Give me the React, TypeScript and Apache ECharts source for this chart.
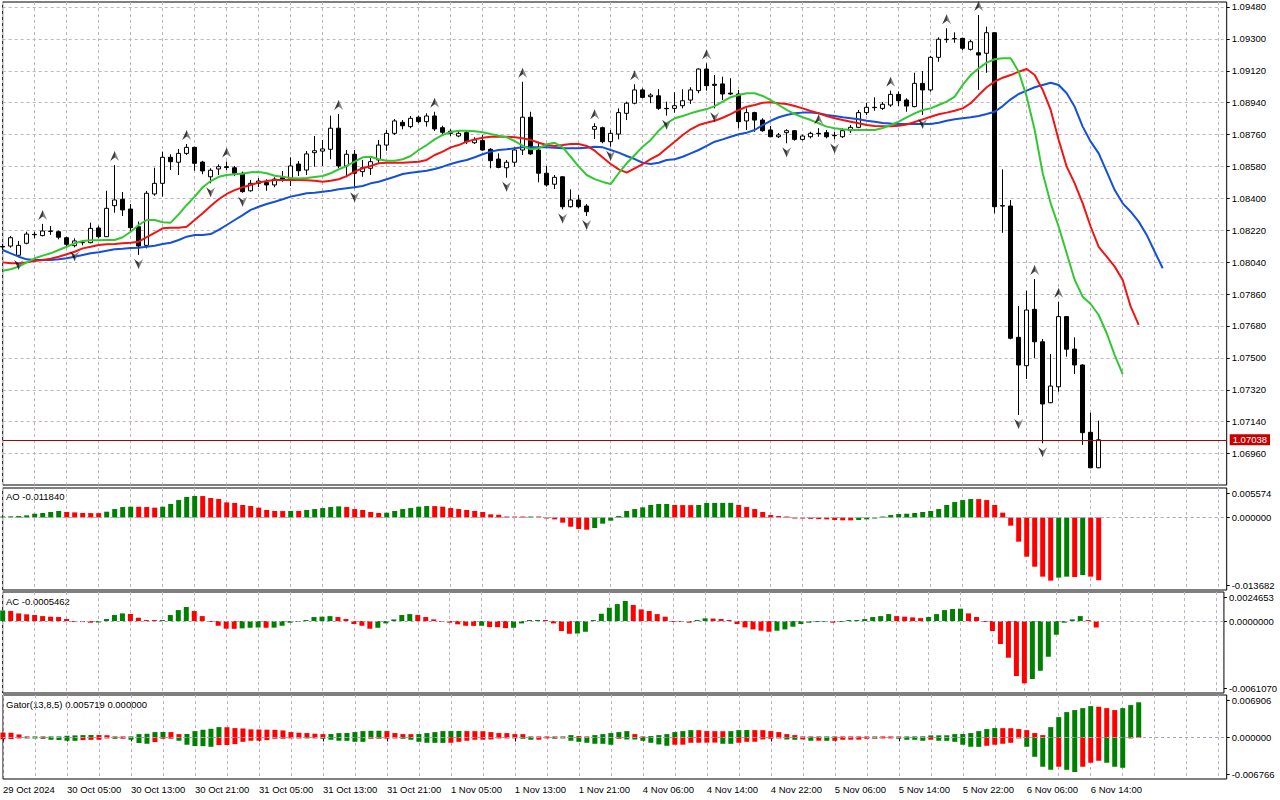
import React, { useEffect, useRef } from "react";
import * as echarts from "echarts";

const FONT = "'Liberation Sans', Arial, sans-serif";

const TIME_LABELS = [
  "29 Oct 2024", "30 Oct 05:00", "30 Oct 13:00", "30 Oct 21:00", "31 Oct 05:00", "31 Oct 13:00",
  "31 Oct 21:00", "1 Nov 05:00", "1 Nov 13:00", "1 Nov 21:00", "4 Nov 06:00", "4 Nov 14:00",
  "4 Nov 22:00", "5 Nov 06:00", "5 Nov 14:00", "5 Nov 22:00", "6 Nov 06:00", "6 Nov 14:00",
];
const BAR_SLOTS = 154;

const PRICE_TICKS = [1.0948, 1.093, 1.0912, 1.0894, 1.0876, 1.0858, 1.084, 1.0822, 1.0804, 1.0786, 1.0768, 1.075, 1.0732, 1.0714, 1.0696];
const PRICE_RANGE: [number, number] = [1.067828, 1.095082];
const LAST_PRICE = 1.07038;
const AO_RANGE: [number, number] = [-0.013682, 0.005574];
const AC_RANGE: [number, number] = [-0.006107, 0.0024653];
const GATOR_RANGE: [number, number] = [-0.006766, 0.006906];

const OPEN = [
  1.08129, 1.08131, 1.08079, 1.08147, 1.08197, 1.08190, 1.08216, 1.08212, 1.08178, 1.08133,
  1.08150, 1.08150, 1.08233, 1.08184, 1.08359, 1.08395, 1.08340, 1.08240, 1.08135, 1.08425,
  1.08485, 1.08632, 1.08604, 1.08654, 1.08688, 1.08605, 1.08522, 1.08566, 1.08579, 1.08573,
  1.08542, 1.08443, 1.08485, 1.08489, 1.08476, 1.08517, 1.08513, 1.08594, 1.08560, 1.08658,
  1.08667, 1.08677, 1.08796, 1.08583, 1.08649, 1.08551, 1.08570, 1.08617, 1.08701, 1.08767,
  1.08829, 1.08805, 1.08858, 1.08833, 1.08865, 1.08799, 1.08779, 1.08752, 1.08771, 1.08714,
  1.08726, 1.08677, 1.08622, 1.08573, 1.08604, 1.08673, 1.08858, 1.08673, 1.08542, 1.08480,
  1.08522, 1.08353, 1.08391, 1.08357, 1.08790, 1.08799, 1.08720, 1.08763, 1.08880, 1.08937,
  1.09012, 1.08974, 1.08979, 1.08908, 1.08908, 1.08923, 1.08955, 1.09008, 1.09130, 1.09044,
  1.09046, 1.08994, 1.08989, 1.08837, 1.08884, 1.08842, 1.08786, 1.08748, 1.08771, 1.08782,
  1.08733, 1.08748, 1.08767, 1.08771, 1.08756, 1.08748, 1.08782, 1.08801, 1.08884, 1.08914,
  1.08908, 1.08927, 1.08987, 1.08955, 1.08918, 1.09049, 1.09012, 1.09196, 1.09298, 1.09300,
  1.09303, 1.09241, 1.09222, 1.09219, 1.09335, 1.08359, 1.08357, 1.07616, 1.07456, 1.07774,
  1.07591, 1.07247, 1.07337, 1.07733, 1.07550, 1.07460, 1.07080, 1.06880,
];
const HIGH = [
  1.08143, 1.08188, 1.08160, 1.08212, 1.08212, 1.08256, 1.08244, 1.08218, 1.08184, 1.08175,
  1.08165, 1.08263, 1.08246, 1.08443, 1.08588, 1.08436, 1.08368, 1.08269, 1.08442, 1.08573,
  1.08664, 1.08649, 1.08679, 1.08707, 1.08691, 1.08612, 1.08570, 1.08592, 1.08608, 1.08583,
  1.08551, 1.08504, 1.08515, 1.08508, 1.08519, 1.08555, 1.08632, 1.08611, 1.08667, 1.08752,
  1.08730, 1.08867, 1.08876, 1.08673, 1.08673, 1.08617, 1.08635, 1.08730, 1.08786, 1.08848,
  1.08842, 1.08865, 1.08867, 1.08880, 1.08889, 1.08810, 1.08790, 1.08782, 1.08780, 1.08745,
  1.08758, 1.08683, 1.08654, 1.08617, 1.08688, 1.09058, 1.08889, 1.08720, 1.08583, 1.08532,
  1.08525, 1.08451, 1.08419, 1.08368, 1.08824, 1.08805, 1.08786, 1.08908, 1.08946, 1.09044,
  1.09021, 1.08993, 1.09016, 1.08946, 1.08999, 1.09016, 1.09027, 1.09134, 1.09162, 1.09096,
  1.09087, 1.09078, 1.09012, 1.08908, 1.08889, 1.08852, 1.08809, 1.08769, 1.08790, 1.08786,
  1.08760, 1.08776, 1.08796, 1.08786, 1.08776, 1.08796, 1.08814, 1.08899, 1.08940, 1.08970,
  1.08944, 1.09008, 1.09004, 1.08965, 1.09109, 1.09119, 1.09204, 1.09309, 1.09360, 1.09337,
  1.09307, 1.09294, 1.09435, 1.09369, 1.09337, 1.08564, 1.08391, 1.07793, 1.07879, 1.07945,
  1.07607, 1.07522, 1.07817, 1.07736, 1.07616, 1.07464, 1.07191, 1.07146,
];
const LOW = [
  1.08109, 1.08122, 1.08075, 1.08141, 1.08175, 1.08186, 1.08194, 1.08169, 1.08130, 1.08124,
  1.08135, 1.08147, 1.08175, 1.08182, 1.08319, 1.08301, 1.08212, 1.08081, 1.08118, 1.08415,
  1.08410, 1.08560, 1.08532, 1.08645, 1.08556, 1.08536, 1.08485, 1.08532, 1.08560, 1.08526,
  1.08432, 1.08438, 1.08464, 1.08443, 1.08463, 1.08494, 1.08470, 1.08526, 1.08532, 1.08579,
  1.08583, 1.08621, 1.08570, 1.08519, 1.08457, 1.08522, 1.08532, 1.08598, 1.08669, 1.08758,
  1.08790, 1.08796, 1.08824, 1.08805, 1.08780, 1.08763, 1.08752, 1.08745, 1.08707, 1.08707,
  1.08669, 1.08570, 1.08570, 1.08517, 1.08579, 1.08645, 1.08645, 1.08491, 1.08466, 1.08453,
  1.08338, 1.08348, 1.08345, 1.08301, 1.08735, 1.08711, 1.08692, 1.08733, 1.08842, 1.08931,
  1.08965, 1.08937, 1.08899, 1.08867, 1.08884, 1.08908, 1.08933, 1.08993, 1.09008, 1.08908,
  1.08955, 1.08983, 1.08796, 1.08786, 1.08776, 1.08776, 1.08745, 1.08741, 1.08711, 1.08726,
  1.08726, 1.08739, 1.08748, 1.08739, 1.08733, 1.08741, 1.08769, 1.08796, 1.08870, 1.08895,
  1.08899, 1.08917, 1.08921, 1.08889, 1.08914, 1.08871, 1.09002, 1.09171, 1.09278, 1.09278,
  1.09237, 1.09234, 1.09012, 1.09109, 1.08316, 1.08206, 1.07605, 1.07178, 1.07381, 1.07498,
  1.07018, 1.07244, 1.07309, 1.07507, 1.07409, 1.07009, 1.06877, 1.06878,
];
const CLOSE = [
  1.08126, 1.08178, 1.08135, 1.08199, 1.08195, 1.08216, 1.08214, 1.08181, 1.08141, 1.08160,
  1.08152, 1.08231, 1.08184, 1.08344, 1.08391, 1.08335, 1.08235, 1.08131, 1.08429, 1.08485,
  1.08632, 1.08607, 1.08654, 1.08688, 1.08598, 1.08555, 1.08559, 1.08579, 1.08574, 1.08542,
  1.08438, 1.08485, 1.08498, 1.08476, 1.08509, 1.08508, 1.08583, 1.08556, 1.08651, 1.08669,
  1.08679, 1.08796, 1.08583, 1.08649, 1.08542, 1.08573, 1.08607, 1.08701, 1.08767, 1.08837,
  1.08810, 1.08852, 1.08833, 1.08865, 1.08792, 1.08773, 1.08767, 1.08767, 1.08720, 1.08730,
  1.08673, 1.08613, 1.08575, 1.08604, 1.08673, 1.08858, 1.08651, 1.08542, 1.08476, 1.08519,
  1.08353, 1.08391, 1.08353, 1.08325, 1.08805, 1.08720, 1.08767, 1.08884, 1.08937, 1.09012,
  1.08970, 1.08983, 1.08908, 1.08906, 1.08923, 1.08951, 1.09012, 1.09130, 1.09036, 1.09038,
  1.08989, 1.08989, 1.08833, 1.08884, 1.08842, 1.08782, 1.08748, 1.08758, 1.08782, 1.08733,
  1.08752, 1.08767, 1.08765, 1.08748, 1.08754, 1.08782, 1.08801, 1.08884, 1.08914, 1.08912,
  1.08931, 1.08987, 1.08951, 1.08921, 1.09049, 1.09012, 1.09196, 1.09298, 1.09296, 1.09302,
  1.09247, 1.09284, 1.09209, 1.09335, 1.08353, 1.08357, 1.07611, 1.07460, 1.07770, 1.07591,
  1.07240, 1.07341, 1.07733, 1.07549, 1.07460, 1.07078, 1.06880, 1.07038,
];

// Alligator: jaw (blue), teeth (red), lips (green)
const JAW = [
  1.08109, 1.08090, 1.08071, 1.08056, 1.08052, 1.08052, 1.08052, 1.08056, 1.08062, 1.08071,
  1.08081, 1.08090, 1.08096, 1.08105, 1.08113, 1.08116, 1.08120, 1.08122, 1.08127, 1.08133,
  1.08143, 1.08150, 1.08165, 1.08184, 1.08194, 1.08194, 1.08199, 1.08222, 1.08250, 1.08278,
  1.08306, 1.08335, 1.08353, 1.08368, 1.08381, 1.08395, 1.08410, 1.08419, 1.08429, 1.08432,
  1.08438, 1.08443, 1.08451, 1.08457, 1.08463, 1.08470, 1.08485, 1.08494, 1.08508, 1.08522,
  1.08538, 1.08545, 1.08551, 1.08556, 1.08566, 1.08579, 1.08594, 1.08607, 1.08617, 1.08632,
  1.08649, 1.08664, 1.08673, 1.08677, 1.08683, 1.08688, 1.08688, 1.08688, 1.08688, 1.08686,
  1.08683, 1.08683, 1.08683, 1.08686, 1.08692, 1.08688, 1.08673, 1.08658, 1.08639, 1.08622,
  1.08601, 1.08594, 1.08601, 1.08617, 1.08621, 1.08635, 1.08654, 1.08673, 1.08696, 1.08720,
  1.08733, 1.08748, 1.08762, 1.08771, 1.08786, 1.08814, 1.08838, 1.08858, 1.08871, 1.08880,
  1.08884, 1.08884, 1.08880, 1.08871, 1.08865, 1.08858, 1.08852, 1.08846, 1.08838, 1.08833,
  1.08825, 1.08822, 1.08820, 1.08820, 1.08820, 1.08820, 1.08820, 1.08827, 1.08838, 1.08846,
  1.08852, 1.08858, 1.08865, 1.08876, 1.08889, 1.08921, 1.08959, 1.08989, 1.09008, 1.09027,
  1.09040, 1.09053, 1.09040, 1.08993, 1.08917, 1.08805, 1.08720, 1.08654, 1.08551, 1.08447,
  1.08372, 1.08325, 1.08269, 1.08194, 1.08099, 1.08006,
];
const TEETH = [
  1.08039, 1.08034, 1.08034, 1.08039, 1.08047, 1.08052, 1.08060, 1.08071, 1.08085, 1.08099,
  1.08118, 1.08127, 1.08137, 1.08141, 1.08143, 1.08147, 1.08150, 1.08156, 1.08181, 1.08206,
  1.08231, 1.08235, 1.08235, 1.08240, 1.08278, 1.08316, 1.08357, 1.08395, 1.08425, 1.08447,
  1.08463, 1.08476, 1.08489, 1.08498, 1.08504, 1.08504, 1.08504, 1.08504, 1.08502, 1.08500,
  1.08494, 1.08500, 1.08508, 1.08526, 1.08551, 1.08570, 1.08583, 1.08598, 1.08601, 1.08601,
  1.08601, 1.08604, 1.08607, 1.08617, 1.08645, 1.08664, 1.08688, 1.08701, 1.08720, 1.08733,
  1.08742, 1.08748, 1.08748, 1.08748, 1.08745, 1.08739, 1.08730, 1.08714, 1.08701, 1.08696,
  1.08701, 1.08707, 1.08707, 1.08696, 1.08669, 1.08631, 1.08594, 1.08564, 1.08545, 1.08570,
  1.08594, 1.08621, 1.08645, 1.08683, 1.08720, 1.08758, 1.08790, 1.08814, 1.08827, 1.08838,
  1.08855, 1.08876, 1.08899, 1.08917, 1.08927, 1.08940, 1.08942, 1.08937, 1.08933, 1.08921,
  1.08908, 1.08893, 1.08880, 1.08865, 1.08852, 1.08842, 1.08833, 1.08824, 1.08814, 1.08809,
  1.08807, 1.08807, 1.08810, 1.08817, 1.08831, 1.08846, 1.08861, 1.08875, 1.08884, 1.08895,
  1.08908, 1.08937, 1.08983, 1.09027, 1.09059, 1.09081, 1.09096, 1.09115, 1.09130, 1.09096,
  1.09012, 1.08899, 1.08730, 1.08579, 1.08485, 1.08372, 1.08240, 1.08127, 1.08071, 1.08015,
  1.07940, 1.07789, 1.07686,
];
const LIPS = [
  1.07992, 1.08000, 1.08015, 1.08039, 1.08062, 1.08077, 1.08090, 1.08109, 1.08127, 1.08147,
  1.08160, 1.08164, 1.08164, 1.08165, 1.08165, 1.08181, 1.08212, 1.08250, 1.08278, 1.08278,
  1.08265, 1.08263, 1.08310, 1.08363, 1.08410, 1.08463, 1.08498, 1.08522, 1.08532, 1.08536,
  1.08539, 1.08547, 1.08549, 1.08542, 1.08528, 1.08522, 1.08515, 1.08512, 1.08515, 1.08521,
  1.08526, 1.08542, 1.08564, 1.08583, 1.08607, 1.08632, 1.08635, 1.08621, 1.08613, 1.08613,
  1.08621, 1.08639, 1.08673, 1.08701, 1.08733, 1.08758, 1.08775, 1.08782, 1.08782, 1.08779,
  1.08773, 1.08763, 1.08754, 1.08745, 1.08724, 1.08696, 1.08677, 1.08683, 1.08705, 1.08714,
  1.08688, 1.08635, 1.08579, 1.08532, 1.08509, 1.08493, 1.08481, 1.08542, 1.08598, 1.08645,
  1.08692, 1.08730, 1.08782, 1.08824, 1.08852, 1.08865, 1.08880, 1.08893, 1.08904, 1.08921,
  1.08946, 1.08971, 1.08983, 1.08993, 1.08993, 1.08978, 1.08955, 1.08927, 1.08899, 1.08876,
  1.08858, 1.08842, 1.08824, 1.08805, 1.08796, 1.08790, 1.08786, 1.08786, 1.08786, 1.08786,
  1.08797, 1.08814, 1.08833, 1.08857, 1.08880, 1.08899, 1.08908, 1.08927, 1.08946, 1.08974,
  1.09040, 1.09096, 1.09134, 1.09166, 1.09185, 1.09191, 1.09191, 1.09115, 1.08974, 1.08786,
  1.08542, 1.08372, 1.08240, 1.08090, 1.07940, 1.07845, 1.07804, 1.07742, 1.07639, 1.07516,
  1.07409,
];

const FRACTAL_UP = [5, 14, 23, 28, 42, 54, 65, 74, 79, 88, 102, 111, 118, 122, 129, 132];
const FRACTAL_DOWN = [2, 9, 17, 26, 30, 44, 63, 70, 73, 76, 83, 89, 98, 104, 115, 127, 130];

const AO = [
  0.00005, 0.00022, 0.00028, 0.00041, 0.00072, 0.00085, 0.00104, 0.00123, 0.00104, 0.00097,
  0.00085, 0.00084, 0.00083, 0.00110, 0.00160, 0.00198, 0.00204, 0.00203, 0.00198, 0.00186,
  0.00204, 0.00255, 0.00330, 0.00387, 0.00406, 0.00405, 0.00368, 0.00349, 0.00286, 0.00274,
  0.00236, 0.00217, 0.00186, 0.00142, 0.00123, 0.00122, 0.00124, 0.00123, 0.00142, 0.00160,
  0.00179, 0.00198, 0.00211, 0.00198, 0.00160, 0.00142, 0.00104, 0.00085, 0.00091, 0.00123,
  0.00160, 0.00179, 0.00204, 0.00217, 0.00216, 0.00204, 0.00179, 0.00160, 0.00142, 0.00123,
  0.00104, 0.00060, 0.00053, 0.00016, 0.00004, 0.00002, 0.00003, 0.00001, -0.00005, -0.00035,
  -0.00097, -0.00173, -0.00217, -0.00230, -0.00198, -0.00116, -0.00060, 0.00028, 0.00123, 0.00160,
  0.00192, 0.00236, 0.00255, 0.00256, 0.00236, 0.00235, 0.00234, 0.00237, 0.00274, 0.00275,
  0.00276, 0.00277, 0.00236, 0.00198, 0.00160, 0.00104, 0.00047, 0.00028, 0.00003, -0.00009,
  -0.00016, -0.00025, -0.00031, -0.00035, -0.00047, -0.00053, -0.00054, -0.00047, -0.00035, -0.00009,
  0.00003, 0.00047, 0.00066, 0.00072, 0.00085, 0.00104, 0.00123, 0.00160, 0.00236, 0.00292,
  0.00330, 0.00349, 0.00348, 0.00330, 0.00236, 0.00091, -0.00154, -0.00456, -0.00739, -0.00928,
  -0.01116, -0.01192, -0.01135, -0.01116, -0.01123, -0.01085, -0.01116, -0.01184,
];
const AC = [
  0.00090, 0.00085, 0.00065, 0.00057, 0.00051, 0.00042, 0.00037, 0.00034, 0.00017, -0.00003,
  -0.00008, -0.00014, -0.00012, 0.00017, 0.00051, 0.00065, 0.00059, 0.00028, 0.00006, 0.00002,
  0.00006, 0.00051, 0.00093, 0.00119, 0.00085, 0.00042, -0.00003, -0.00040, -0.00065, -0.00066,
  -0.00062, -0.00057, -0.00054, -0.00057, -0.00056, -0.00040, -0.00014, -0.00003, 0.00006, 0.00034,
  0.00037, 0.00042, 0.00034, 0.00017, -0.00025, -0.00040, -0.00065, -0.00057, -0.00020, 0.00014,
  0.00051, 0.00059, 0.00051, 0.00034, 0.00014, -0.00003, -0.00014, -0.00028, -0.00040, -0.00041,
  -0.00040, -0.00051, -0.00052, -0.00060, -0.00057, -0.00020, 0.00006, 0.00008, 0.00006, -0.00020,
  -0.00085, -0.00108, -0.00106, -0.00091, 0.00001, 0.00062, 0.00113, 0.00144, 0.00170, 0.00136,
  0.00099, 0.00085, 0.00059, 0.00037, -0.00001, -0.00003, -0.00014, 0.00008, 0.00023, 0.00021,
  0.00017, 0.00008, -0.00025, -0.00054, -0.00071, -0.00082, -0.00091, -0.00082, -0.00071, -0.00048,
  -0.00025, -0.00014, -0.00008, -0.00003, -0.00014, -0.00001, 0.00001, 0.00003, 0.00017, 0.00034,
  0.00042, 0.00059, 0.00042, 0.00037, 0.00031, 0.00025, 0.00034, 0.00059, 0.00093, 0.00102,
  0.00105, 0.00065, 0.00034, -0.00001, -0.00085, -0.00195, -0.00311, -0.00467, -0.00529, -0.00492,
  -0.00422, -0.00303, -0.00116, -0.00014, 0.00014, 0.00042, 0.00006, -0.0005462,
];
const GATOR_UP = [
  0.00080, 0.00076, 0.00049, 0.00014, 0.00016, 0.00011, 0.00012, 0.00015, 0.00027, 0.00033,
  0.00038, 0.00040, 0.00039, 0.00036, 0.00016, 0.00015, 0.00017, 0.00054, 0.00060, 0.00087,
  0.00089, 0.00087, 0.00054, 0.00056, 0.00103, 0.00125, 0.00141, 0.00168, 0.00166, 0.00152,
  0.00146, 0.00131, 0.00129, 0.00126, 0.00124, 0.00114, 0.00087, 0.00076, 0.00071, 0.00060,
  0.00054, 0.00055, 0.00071, 0.00072, 0.00087, 0.00103, 0.00108, 0.00109, 0.00103, 0.00071,
  0.00054, 0.00053, 0.00055, 0.00071, 0.00087, 0.00103, 0.00104, 0.00105, 0.00103, 0.00102,
  0.00101, 0.00087, 0.00071, 0.00070, 0.00054, 0.00053, 0.00016, 0.00015, 0.00005, 0.00001,
  0.00016, 0.00038, 0.00022, 0.00001, 0.00038, 0.00054, 0.00071, 0.00087, 0.00103, 0.00054,
  0.00001, 0.00022, 0.00038, 0.00054, 0.00087, 0.00103, 0.00119, 0.00118, 0.00103, 0.00102,
  0.00101, 0.00102, 0.00119, 0.00120, 0.00119, 0.00118, 0.00103, 0.00087, 0.00054, 0.00038,
  0.00016, 0.00001, 0.00005, 0.00006, 0.00016, 0.00015, 0.00014, 0.00013, 0.00012, 0.00016,
  0.00015, 0.00014, 0.00005, 0.00016, 0.00017, 0.00018, 0.00033, 0.00034, 0.00035, 0.00054,
  0.00055, 0.00071, 0.00103, 0.00136, 0.00152, 0.00151, 0.00150, 0.00136, 0.00119, 0.00071,
  0.00038, 0.00168, 0.00331, 0.00412, 0.00445, 0.00477, 0.00510, 0.00499, 0.00477, 0.00445,
  0.00477, 0.00526, 0.005719,
];
const GATOR_DOWN = [
  -0.00030, -0.00027, -0.00005, -0.00016, -0.00017, -0.00022, -0.00038, -0.00043, -0.00054, -0.00055,
  -0.00043, -0.00040, -0.00038, -0.00016, -0.00022, -0.00021, -0.00038, -0.00092, -0.00103, -0.00076,
  -0.00022, -0.00021, -0.00054, -0.00119, -0.00141, -0.00142, -0.00152, -0.00125, -0.00124, -0.00109,
  -0.00071, -0.00054, -0.00053, -0.00043, -0.00022, -0.00021, -0.00002, -0.00001, -0.00016, -0.00015,
  -0.00022, -0.00038, -0.00054, -0.00055, -0.00071, -0.00072, -0.00022, -0.00021, -0.00020, -0.00001,
  -0.00022, -0.00038, -0.00071, -0.00087, -0.00088, -0.00089, -0.00087, -0.00071, -0.00054, -0.00038,
  -0.00037, -0.00033, -0.00005, -0.00004, -0.00001, -0.00022, -0.00038, -0.00037, -0.00005, -0.00022,
  -0.00005, -0.00054, -0.00071, -0.00087, -0.00103, -0.00104, -0.00119, -0.00022, -0.00033, -0.00034,
  -0.00054, -0.00087, -0.00114, -0.00136, -0.00119, -0.00118, -0.00087, -0.00086, -0.00085, -0.00084,
  -0.00103, -0.00104, -0.00087, -0.00071, -0.00070, -0.00033, -0.00022, -0.00005, -0.00033, -0.00038,
  -0.00033, -0.00054, -0.00053, -0.00055, -0.00054, -0.00038, -0.00037, -0.00036, -0.00022, -0.00021,
  -0.00011, -0.00005, -0.00022, -0.00038, -0.00039, -0.00054, -0.00038, -0.00054, -0.00055, -0.00071,
  -0.00119, -0.00152, -0.00153, -0.00136, -0.00119, -0.00103, -0.00087, -0.00005, -0.00152, -0.00315,
  -0.00477, -0.00526, -0.00477, -0.00527, -0.00564, -0.00477, -0.00412, -0.00380, -0.00412, -0.00477,
  -0.00494, -0.00003, 0,
];

const GREEN = "#008000";
const RED = "#ff0000";
const GRID_LINE = "#bfb3bf";

// Panel layout (pixels)
const PLOT_LEFT = 2.7;
const PLOT_WIDTH = 1224;
const PANELS = [
  { top: 2, height: 483 },
  { top: 488, height: 102 },
  { top: 592, height: 101 },
  { top: 695, height: 84 },
];

function trendColors(vals: number[], first: string, useAbs: boolean): string[] {
  const out: string[] = [];
  let cur = first;
  vals.forEach((v, i) => {
    if (i > 0) {
      const a = useAbs ? Math.abs(v) : v;
      const b = useAbs ? Math.abs(vals[i - 1]) : vals[i - 1];
      if (a > b) cur = GREEN;
      else if (a < b) cur = RED;
    }
    out.push(cur);
  });
  return out;
}

function edgeLabels(range: [number, number], heightPx: number, digits: number) {
  const pad = ((range[1] - range[0]) * 5) / heightPx;
  return [
    { at: range[1] - pad, text: range[1].toFixed(digits) },
    { at: 0, text: (0).toFixed(digits) },
    { at: range[0] + pad, text: range[0].toFixed(digits) },
  ];
}

function nearestText(list: { at: number; text: string }[], v: number) {
  let best = list[0];
  list.forEach((l) => {
    if (Math.abs(l.at - v) < Math.abs(best.at - v)) best = l;
  });
  return best.text;
}

const labelStyle = { color: "#000", fontSize: 9.5, fontFamily: FONT };

function sideAxis(gridIndex: number, range: [number, number], ticks: number[], fmt: (v: number) => string, split: boolean) {
  return {
    type: "value",
    gridIndex,
    position: "right",
    min: range[0],
    max: range[1],
    axisLine: { show: false },
    axisTick: { show: true, length: 3, customValues: ticks, lineStyle: { color: "#000" } },
    axisLabel: { ...labelStyle, customValues: ticks, formatter: fmt, margin: 5 },
    splitLine: { show: split, lineStyle: { color: GRID_LINE, type: [3, 3], width: 1 } },
  };
}

const zeroLine = {
  silent: true,
  precision: 8,
  symbol: ["none", "none"],
  label: { show: false },
  lineStyle: { color: "#a3a6bd", type: [3, 3], width: 1 },
  data: [{ yAxis: 0 }],
};

const fractalFill = {
  type: "linear",
  x: 0,
  y: 0,
  x2: 1,
  y2: 0,
  colorStops: [
    { offset: 0, color: "#000000" },
    { offset: 0.5, color: "#111111" },
    { offset: 0.5, color: "#5a5a5a" },
    { offset: 1, color: "#7a7a7a" },
  ],
};

function App() {
  const ref = useRef<HTMLDivElement>(null);
  useEffect(() => {
    if (!ref.current) return;
    const chart = echarts.init(ref.current, null, { renderer: "svg" });
    const categories = Array.from({ length: BAR_SLOTS }, (_, i) => String(i));

    const xAxes = PANELS.map((_, gi) => {
      const last = gi === PANELS.length - 1;
      const showAt = (index: number) => index % 8 === 0 && index / 8 < TIME_LABELS.length;
      return {
        type: "category",
        gridIndex: gi,
        data: categories,
        boundaryGap: false,
        axisLine: { show: false },
        axisTick: last
          ? { show: true, length: 4, interval: showAt, lineStyle: { color: "#000" } }
          : { show: false },
        axisLabel: last
          ? {
              ...labelStyle,
              show: true,
              interval: showAt,
              align: "left",
              margin: 5,
              formatter: (v: string) => {
                const i = Number(v);
                return i % 8 === 0 && TIME_LABELS[i / 8] ? TIME_LABELS[i / 8] : "";
              },
            }
          : { show: false },
        splitLine: { show: true, interval: 3, lineStyle: { color: GRID_LINE, type: [3, 3], width: 1 } },
      };
    });

    const aoLabels = edgeLabels(AO_RANGE, PANELS[1].height, 6);
    const acLabels = edgeLabels(AC_RANGE, PANELS[2].height, 7);
    const gatorLabels = edgeLabels(GATOR_RANGE, PANELS[3].height, 6);

    const yAxes = [
      sideAxis(0, PRICE_RANGE, PRICE_TICKS, (v) => v.toFixed(5), true),
      sideAxis(1, AO_RANGE, aoLabels.map((l) => l.at), (v) => nearestText(aoLabels, v), false),
      sideAxis(2, AC_RANGE, acLabels.map((l) => l.at), (v) => nearestText(acLabels, v), false),
      sideAxis(3, GATOR_RANGE, gatorLabels.map((l) => l.at), (v) => nearestText(gatorLabels, v), false),
    ];

    const aoColors = trendColors(AO, GREEN, false);
    const acColors = trendColors(AC, GREEN, false);
    const gUpColors = trendColors(GATOR_UP, RED, true);
    const gDownColors = trendColors(GATOR_DOWN, RED, true);

    const bars = (vals: number[], colors: string[]) =>
      vals.map((v, i) => ({ value: v, itemStyle: { color: colors[i] } }));

    const upPath = "path://M5,0 L10,10 L5,6.5 L0,10 Z";
    const downPath = "path://M0,0 L5,3.5 L10,0 L5,10 Z";

    const option = {
      animation: false,
      backgroundColor: "#ffffff",
      grid: PANELS.map((p) => ({
        left: PLOT_LEFT,
        width: PLOT_WIDTH,
        top: p.top,
        height: p.height,
        show: true,
        borderColor: "#000",
        borderWidth: 1,
        backgroundColor: "transparent",
      })),
      xAxis: xAxes,
      yAxis: yAxes,
      graphic: [
        { type: "text", left: 6, top: 491, style: { text: "AO " + AO[AO.length - 1].toFixed(6), fontSize: 9.5, fontFamily: FONT, fill: "#000" } },
        { type: "text", left: 6, top: 596, style: { text: "AC " + AC[AC.length - 1].toFixed(7), fontSize: 9.5, fontFamily: FONT, fill: "#000" } },
        {
          type: "text",
          left: 6,
          top: 699,
          style: {
            text:
              "Gator(13,8,5) " +
              GATOR_UP[GATOR_UP.length - 1].toFixed(6) +
              " " +
              Math.abs(GATOR_DOWN[GATOR_DOWN.length - 1]).toFixed(6),
            fontSize: 9.5,
            fontFamily: FONT,
            fill: "#000",
          },
        },
      ],
      series: [
        {
          type: "candlestick",
          xAxisIndex: 0,
          yAxisIndex: 0,
          barWidth: 4,
          data: OPEN.map((o, i) => [o, CLOSE[i], LOW[i], HIGH[i]]),
          itemStyle: { color: "#ffffff", color0: "#000000", borderColor: "#000000", borderColor0: "#000000", borderWidth: 1 },
          z: 2,
          markLine: {
            silent: true,
            precision: 5,
            symbol: ["none", "none"],
            lineStyle: { color: "#b00000", type: "solid", width: 1 },
            label: {
              show: true,
              position: "end",
              formatter: LAST_PRICE.toFixed(5),
              color: "#fff",
              backgroundColor: "#c80000",
              padding: [1, 3, 0, 3],
              fontSize: 9.5,
              fontFamily: FONT,
              distance: 3,
            },
            data: [{ yAxis: LAST_PRICE }],
          },
        },
        { type: "line", xAxisIndex: 0, yAxisIndex: 0, data: JAW, symbol: "none", lineStyle: { color: "#1450d8", width: 2 }, z: 3 },
        { type: "line", xAxisIndex: 0, yAxisIndex: 0, data: TEETH, symbol: "none", lineStyle: { color: "#f01414", width: 2 }, z: 3 },
        { type: "line", xAxisIndex: 0, yAxisIndex: 0, data: LIPS, symbol: "none", lineStyle: { color: "#33c833", width: 2 }, z: 3 },
        {
          type: "scatter",
          xAxisIndex: 0,
          yAxisIndex: 0,
          data: FRACTAL_UP.map((i) => [i, HIGH[i]]),
          symbol: upPath,
          symbolSize: [9, 10],
          symbolOffset: [0, -9],
          itemStyle: { color: fractalFill },
          z: 4,
        },
        {
          type: "scatter",
          xAxisIndex: 0,
          yAxisIndex: 0,
          data: FRACTAL_DOWN.map((i) => [i, LOW[i]]),
          symbol: downPath,
          symbolSize: [9, 10],
          symbolOffset: [0, 9],
          itemStyle: { color: fractalFill },
          z: 4,
        },
        { type: "bar", xAxisIndex: 1, yAxisIndex: 1, barWidth: 5, barMinHeight: 1, data: bars(AO, aoColors), markLine: zeroLine },
        { type: "bar", xAxisIndex: 2, yAxisIndex: 2, barWidth: 5, barMinHeight: 1, data: bars(AC, acColors), markLine: zeroLine },
        { type: "bar", xAxisIndex: 3, yAxisIndex: 3, barWidth: 5, barGap: "-100%", barMinHeight: 1, data: bars(GATOR_UP, gUpColors) },
        { type: "bar", xAxisIndex: 3, yAxisIndex: 3, barWidth: 5, barGap: "-100%", barMinHeight: 1, data: bars(GATOR_DOWN, gDownColors), markLine: zeroLine },
      ],
    };

    chart.setOption(option as any);
    return () => chart.dispose();
  }, []);

  return (
    <div
      ref={ref}
      style={{ position: "fixed", left: 0, top: 0, width: 1280, height: 800, background: "#ffffff" }}
    />
  );
}

export default App;
